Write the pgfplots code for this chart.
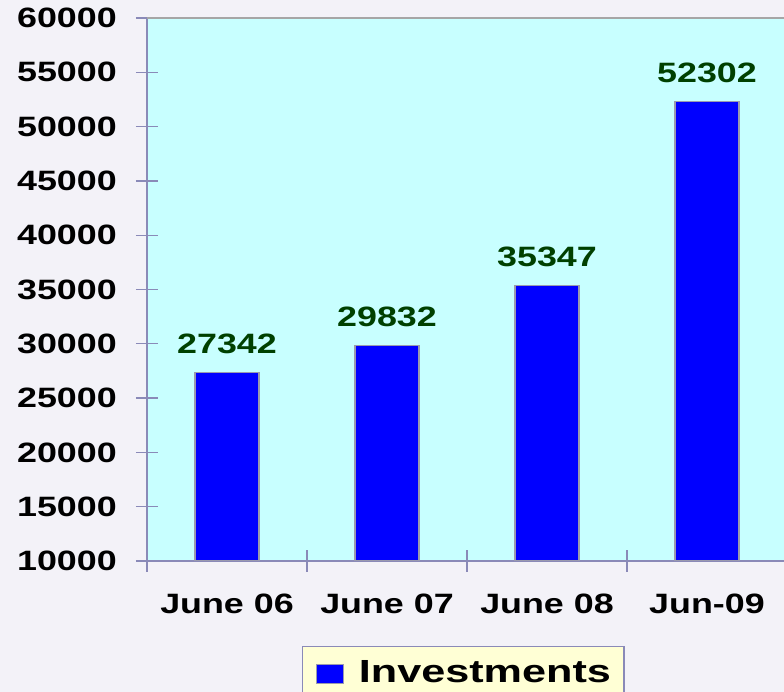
\documentclass[border=0pt]{standalone}
\usepackage{fontspec}
\usepackage{pgfplots}
\pgfplotsset{compat=1.18}
\newfontfamily\chartfont{Liberation Sans}[FakeStretch=1.28]
\newfontfamily\legfont{Liberation Sans}[FakeStretch=1.35]
\definecolor{bgcol}{HTML}{F3F2F8}
\definecolor{plotcol}{HTML}{C8FFFF}
\definecolor{linecol}{HTML}{8A8AB8}
\definecolor{barline}{HTML}{9A9AAE}
\definecolor{labgreen}{HTML}{004000}
\definecolor{legfill}{HTML}{FFFFD5}
\begin{document}
\begin{tikzpicture}
\useasboundingbox (0,0) rectangle (784pt,692pt);
\clip (0,0) rectangle (784pt,692pt);
\fill[bgcol] (0,0) rectangle (784pt,692pt);
\begin{axis}[
  at={(147pt,131pt)}, anchor=south west,
  scale only axis, width=640pt, height=543pt,
  xmin=-0.5, xmax=3.5, ymin=10000, ymax=60000,
  axis background/.style={fill=plotcol},
  axis x line*=bottom, axis y line*=left,
  axis line style={-, draw=linecol, line width=1.3pt},
  ybar, bar width=64pt,
  xtick={-0.5,0.5,1.5,2.5,3.5},
  xticklabels={},
  extra x ticks={0,1,2,3},
  extra x tick labels={June 06,June 07,June 08,Jun-09},
  extra x tick style={major tick length=0pt, tick style={draw=none}},
  ytick={10000,15000,...,60000},
  tick style={draw=linecol, line width=1.3pt},
  tick align=center,
  major tick length=22pt,
  scaled y ticks=false,
  /pgf/number format/.cd, 1000 sep={}, assume math mode=true, /pgfplots/.cd,
  ticklabel style={font=\chartfont\bfseries\fontsize{28}{30}\selectfont, text=black},
  yticklabel style={anchor=east, inner sep=0pt, xshift=-19pt},
  xticklabel style={anchor=base, inner sep=0pt, yshift=-53pt},
  nodes near coords,
  every node near coord/.append style={font=\chartfont\bfseries\fontsize{28}{30}\selectfont, text=labgreen, anchor=base, inner sep=0pt, yshift=19pt},
  legend style={at={(rel axis cs:0.2422,-0.1565)}, anchor=north west,
    fill=legfill, draw=linecol, line width=1.3pt,
    font=\legfont\bfseries\fontsize{32}{34}\selectfont,
    nodes={inner sep=0pt}, column sep=15pt,
    inner xsep=13pt, inner ysep=14pt},
  legend image code/.code={\draw[fill=blue, draw=barline, line width=1.2pt] (0pt,-11pt) rectangle (27pt,8pt);},
  after end axis/.code={\draw[gray!70, line width=1.3pt] (rel axis cs:0,1) -- (rel axis cs:1,1);},
]
\addplot[fill=blue, draw=barline, line width=1.5pt] coordinates {(0,27342) (1,29832) (2,35347) (3,52302)};
\addlegendentry{Investments}
\end{axis}
\end{tikzpicture}
\end{document}
